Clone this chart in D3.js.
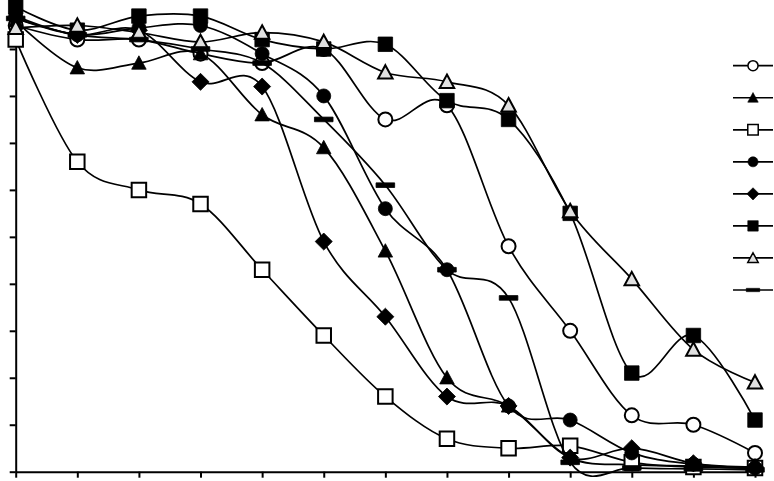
<!DOCTYPE html>
<html>
<head>
<meta charset="utf-8">
<script src="https://cdn.jsdelivr.net/npm/d3@7"></script>
<style>
  body { margin: 0; background: #fff; }
  svg { display: block; font-family: "Liberation Sans", Arial, sans-serif; }
</style>
</head>
<body>
<div id="chart"></div>
<script>
// categories along the x axis (no labels visible in the picture)
const categories = [1, 2, 3, 4, 5, 6, 7, 8, 9, 10, 11, 12, 13];
const yTicks = [0, 0.1, 0.2, 0.3, 0.4, 0.5, 0.6, 0.7, 0.8, 0.9, 1.0];

// series values
const openCircle     = [0.95, 0.92, 0.92, 0.89, 0.87, 0.90, 0.75, 0.78, 0.48, 0.30, 0.12, 0.10, 0.04];
const filledTriangle = [0.96, 0.86, 0.87, 0.89, 0.76, 0.69, 0.47, 0.20, 0.14, 0.03, 0.015, 0.012, 0.006];
const openSquare     = [0.92, 0.66, 0.60, 0.57, 0.43, 0.29, 0.16, 0.07, 0.05, 0.055, 0.02, 0.01, 0.008];
const filledCircle   = [0.97, 0.93, 0.945, 0.95, 0.89, 0.80, 0.56, 0.43, 0.14, 0.11, 0.04, 0.016, 0.008];
const filledDiamond  = [0.965, 0.93, 0.94, 0.83, 0.82, 0.49, 0.33, 0.16, 0.14, 0.03, 0.05, 0.018, 0.01];
const filledSquare   = [0.99, 0.94, 0.97, 0.97, 0.92, 0.90, 0.91, 0.79, 0.75, 0.55, 0.21, 0.29, 0.11];
const openTriangle   = [0.945, 0.95, 0.935, 0.915, 0.935, 0.915, 0.85, 0.83, 0.78, 0.555, 0.41, 0.26, 0.19];
const dashSeries     = [0.965, 0.93, 0.92, 0.90, 0.87, 0.75, 0.61, 0.43, 0.37, 0.02, 0.008, 0.006, 0.004];

const series = [
  {values: openCircle,     marker: "circle",   fill: "#fff"},
  {values: filledTriangle, marker: "triangle", fill: "#000"},
  {values: openSquare,     marker: "square",   fill: "#fff"},
  {values: filledCircle,   marker: "circle",   fill: "#000"},
  {values: filledDiamond,  marker: "diamond",  fill: "#000"},
  {values: filledSquare,   marker: "square",   fill: "#000"},
  {values: openTriangle,   marker: "triangle", fill: "#e0e0e0"},
  {values: dashSeries,     marker: "dash",     fill: "#000"}
];

const width = 774, height = 481;

const svg = d3.select("#chart").append("svg")
    .attr("width", width)
    .attr("height", height);

let x = d3.scalePoint()
    .domain(categories)
    .range([15.7, 755]);

let y = d3.scaleLinear()
    .domain([0, 1])
    .range([471.7, 2]);

// axes, no tick labels
svg.append("g")
    .attr("transform", `translate(${x.range()[0]},0)`)
    .call(d3.axisLeft(y).tickValues(yTicks).tickFormat("").tickSizeOuter(0).tickSizeInner(6))
    .call(g => g.selectAll("path,line").attr("stroke", "#000").attr("stroke-width", 2));

svg.append("g")
    .attr("transform", `translate(0,${y(0)})`)
    .call(d3.axisBottom(x).tickFormat("").tickSizeOuter(0).tickSizeInner(6))
    .call(g => g.selectAll("path,line").attr("stroke", "#000").attr("stroke-width", 2));

// excel style smoothing
let line = d3.line()
    .x((d, i) => x(categories[i]))
    .y(d => y(d))
    .curve(d3.curveCardinal.tension(0));

function markerPath(type, s) {
  let h = s / 2;
  if (type === "circle") return d3.symbol(d3.symbolCircle, Math.PI * h * h)();
  if (type === "square") return `M${-h},${-h}H${h}V${h}H${-h}Z`;
  if (type === "diamond") return `M0,${-h * 1.1}L${h * 1.1},0L0,${h * 1.1}L${-h * 1.1},0Z`;
  if (type === "triangle") return `M0,${-h}L${h},${h * 0.85}L${-h},${h * 0.85}Z`;
  if (type === "dash") return `M${-h * 1.2},${-h * 0.3}H${h * 1.2}V${h * 0.3}H${-h * 1.2}Z`;
}

function markerSize(type) {
  return {circle: 14, square: 14.5, diamond: 15.5, triangle: 14.5, dash: 15.5}[type];
}

series.forEach(s => {
  let g = svg.append("g").attr("class", "series");

  g.append("path")
      .attr("d", line(s.values))
      .attr("fill", "none")
      .attr("stroke", "#000")
      .attr("stroke-width", 1.7);

  g.selectAll(".mark")
    .data(s.values)
    .enter().append("path")
      .attr("class", "mark")
      .attr("transform", (d, i) => `translate(${x(categories[i])},${y(d)})`)
      .attr("d", markerPath(s.marker, markerSize(s.marker)))
      .attr("fill", s.fill)
      .attr("stroke", "#000")
      .attr("stroke-width", s.fill === "#000" ? 0.8 : 2);
});

// legend (labels fall outside the picture)
let legendY = d3.scaleLinear().domain([0, series.length - 1]).range([65.7, 290]);

let legend = svg.selectAll(".legend")
  .data(series)
  .enter().append("g")
    .attr("class", "legend")
    .attr("transform", (d, i) => `translate(753,${legendY(i)})`);

legend.append("line")
    .attr("x1", -20).attr("x2", 20)
    .attr("stroke", "#000")
    .attr("stroke-width", 1.7);

legend.append("path")
    .attr("d", d => markerPath(d.marker, markerSize(d.marker) * 0.72))
    .attr("fill", d => d.fill)
    .attr("stroke", "#000")
    .attr("stroke-width", d => d.fill === "#000" ? 0.6 : 1.5);
</script>
</body>
</html>
